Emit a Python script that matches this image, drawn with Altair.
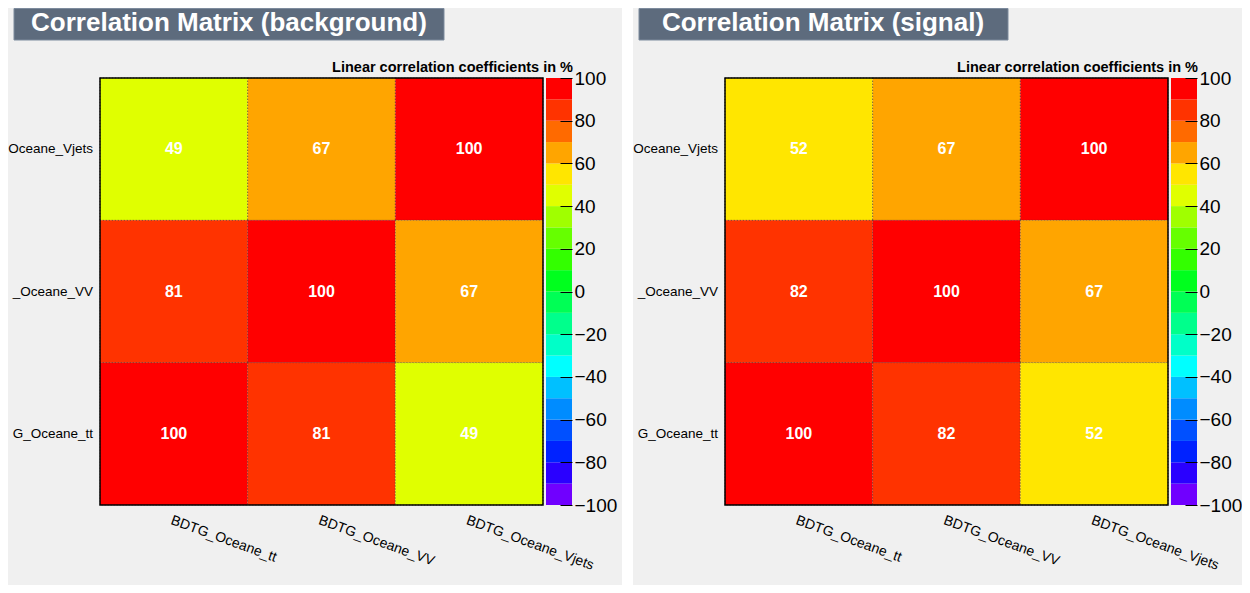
import altair as alt
import pandas as pd

# ---------------- data ----------------
x_vars = ["BDTG_Oceane_tt", "BDTG_Oceane_VV", "BDTG_Oceane_Vjets"]
y_vars = ["BDTG_Oceane_Vjets", "BDTG_Oceane_VV", "BDTG_Oceane_tt"]  # top to bottom

# rows follow y_vars, columns follow x_vars
background_matrix = [
    [49, 67, 100],
    [81, 100, 67],
    [100, 81, 49],
]
signal_matrix = [
    [52, 67, 100],
    [82, 100, 67],
    [100, 82, 52],
]

panel_titles = ["Correlation Matrix (background)", "Correlation Matrix (signal)"]
subtitle = "Linear correlation coefficients in %"

colorbar_ticks = [-100, -80, -60, -40, -20, 0, 20, 40, 60, 80, 100]
bin_edges = [-100, -90, -80, -70, -60, -50, -40, -30, -20, -10, 0,
             10, 20, 30, 40, 50, 60, 70, 80, 90, 100]
palette = [
    "#7000ff", "#2a00ff", "#0022ff", "#0050ff", "#008cff",
    "#00c0ff", "#00ffff", "#00ffc8", "#00ff8c", "#00ff55",
    "#00ff1e", "#33ff00", "#66ff00", "#a0ff00", "#e0ff00",
    "#ffe600", "#ffa500", "#ff6a00", "#ff3300", "#ff0000",
]

FONT = "Liberation Sans"
W, H = 443, 427

color_scale = alt.Scale(type="threshold", domain=bin_edges[1:-1], range=palette)


def cells_frame(matrix):
    rows = []
    for i, yv in enumerate(y_vars):
        for j, xv in enumerate(x_vars):
            rows.append({"xv": xv, "yv": yv, "value": matrix[i][j]})
    return pd.DataFrame(rows)


def one_row(**kw):
    return pd.DataFrame([kw])


def make_panel(matrix, title, box_x2, title_cx, bg_x2):
    df = cells_frame(matrix)
    x_axis = alt.Axis(
        title=None, labelAngle=20, labelAlign="left", labelBaseline="top",
        labelPadding=8, ticks=False, domain=False, labelFont=FONT,
        labelFontSize=14, labelColor="#000000", labelLimit=300,
    )
    xenc = alt.X("xv:N", sort=x_vars, axis=x_axis, scale=alt.Scale(paddingInner=0, paddingOuter=0))
    yenc = alt.Y("yv:N", sort=y_vars, axis=None, scale=alt.Scale(paddingInner=0, paddingOuter=0))

    bg = alt.Chart(one_row(k=1)).mark_rect(fill="#f0f0f0", strokeWidth=0).encode(
        x=alt.value(-92), x2=alt.value(bg_x2), y=alt.value(-70), y2=alt.value(507)
    )
    tbox = alt.Chart(one_row(k=1)).mark_rect(
        fill="#5D6B7D", stroke="#7D8B9D", strokeWidth=1
    ).encode(x=alt.value(-86), x2=alt.value(box_x2), y=alt.value(-69.5), y2=alt.value(-38))
    ttext = alt.Chart(one_row(t=title)).mark_text(
        font=FONT, fontSize=26, fontWeight="bold", color="white",
        align="center", baseline="middle",
    ).encode(x=alt.value(title_cx), y=alt.value(-55), text="t:N")
    sub = alt.Chart(one_row(t=subtitle)).mark_text(
        font=FONT, fontSize=14.5, fontWeight="bold", color="black",
        align="right", baseline="alphabetic",
    ).encode(x=alt.value(473), y=alt.value(-6), text="t:N")

    cells = alt.Chart(df).mark_rect(
        stroke="#333333", strokeWidth=1, strokeDash=[1, 2], strokeOpacity=0.6
    ).encode(
        x=xenc, y=yenc,
        color=alt.Color("value:Q", scale=color_scale, legend=None),
    )
    ctext = alt.Chart(df).mark_text(
        font=FONT, fontSize=16, fontWeight="bold", color="white",
        align="center", baseline="middle",
    ).encode(x=xenc, y=yenc, text="value:Q")

    # row labels, cut on their left side at the panel edge (like the original)
    ylab = alt.Chart(pd.DataFrame({"yv": y_vars})).mark_text(
        font=FONT, fontSize=13.5, color="black", align="right", baseline="middle",
        dir="rtl", limit=85.5, ellipsis="\u200b",
    ).encode(x=alt.value(-7), y=yenc, text="yv:N")

    frame = alt.Chart(one_row(k=1)).mark_rect(
        fillOpacity=0, stroke="black", strokeWidth=1.5
    ).encode(x=alt.value(0), x2=alt.value(W), y=alt.value(0), y2=alt.value(H))

    inner = alt.layer(bg, tbox, ttext, sub, cells, ctext, ylab, frame)

    cb_df = pd.DataFrame({
        "lo": bin_edges[:-1],
        "hi": bin_edges[1:],
        "mid": [(a + b) / 2 for a, b in zip(bin_edges[:-1], bin_edges[1:])],
    })
    cbar = alt.Chart(cb_df).mark_rect(strokeWidth=0).encode(
        x=alt.value(446), x2=alt.value(472),
        y=alt.Y("lo:Q", scale=alt.Scale(domain=[-100, 100], nice=False, zero=False),
                axis=alt.Axis(
                    orient="right", title=None, values=colorbar_ticks, format="d",
                    offset=17, tickSize=12, tickColor="black", tickWidth=1,
                    domain=False, grid=False, labelPadding=2, labelFont=FONT,
                    labelFontSize=19, labelColor="black", labelFlush=False,
                    labelOverlap=False, labelBaseline="middle", zindex=2,
                )),
        y2="hi:Q",
        color=alt.Color("mid:Q", scale=color_scale, legend=None),
    )

    return alt.layer(inner, cbar).resolve_scale(y="independent").properties(width=W, height=H)


left = make_panel(background_matrix, panel_titles[0], 344, 129, 522)
right = make_panel(signal_matrix, panel_titles[1], 283, 98, 517)

chart = alt.hconcat(left, right, spacing=11).properties(
    padding=0, background="white"
).configure_view(stroke=None)

chart.save("out.html", embed_options={"renderer": "svg", "actions": False})
